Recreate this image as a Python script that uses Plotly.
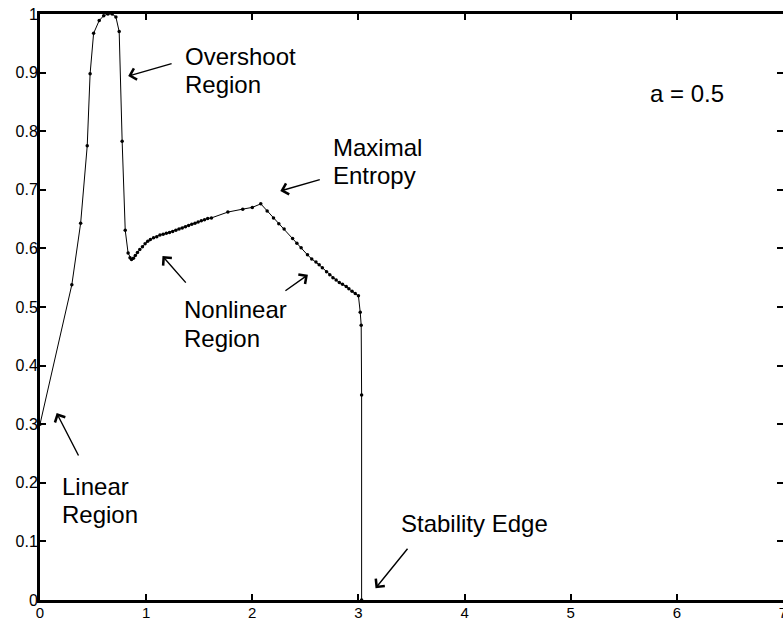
import plotly.graph_objects as go

# Curve samples (x, y)
x_vals = [
    0.000, 0.300, 0.383, 0.445, 0.472, 0.505, 0.558, 0.600, 0.640, 0.680,
    0.715, 0.746, 0.774, 0.803, 0.830, 0.848, 0.862, 0.880, 0.898, 0.918,
    0.940, 0.965, 0.990, 1.015, 1.040, 1.070, 1.100, 1.130, 1.160, 1.190,
    1.220, 1.250, 1.280, 1.310, 1.340, 1.370, 1.400, 1.430, 1.460, 1.490,
    1.520, 1.550, 1.580, 1.615, 1.770, 1.910, 2.000, 2.080, 2.140, 2.200,
    2.250, 2.300, 2.380, 2.420, 2.460, 2.520, 2.560, 2.600, 2.630, 2.660,
    2.700, 2.730, 2.760, 2.790, 2.820, 2.850, 2.885, 2.910, 2.940, 2.970,
    3.000, 3.017, 3.026, 3.030, 3.030,
]
y_vals = [
    0.300, 0.538, 0.643, 0.775, 0.898, 0.967, 0.989, 0.997, 1.000, 1.000,
    0.995, 0.970, 0.783, 0.631, 0.592, 0.584, 0.581, 0.583, 0.588, 0.593,
    0.598, 0.603, 0.608, 0.612, 0.615, 0.618, 0.620, 0.623, 0.624, 0.626,
    0.627, 0.629, 0.631, 0.633, 0.635, 0.637, 0.639, 0.641, 0.643, 0.645,
    0.647, 0.649, 0.651, 0.652, 0.662, 0.667, 0.670, 0.676, 0.664, 0.652,
    0.642, 0.633, 0.617, 0.609, 0.601, 0.589, 0.582, 0.577, 0.572, 0.567,
    0.560, 0.555, 0.550, 0.546, 0.542, 0.539, 0.535, 0.531, 0.527, 0.523,
    0.519, 0.491, 0.469, 0.350, 0.000,
]

x_ticks = [0, 1, 2, 3, 4, 5, 6, 7]
y_ticks = [0, 0.1, 0.2, 0.3, 0.4, 0.5, 0.6, 0.7, 0.8, 0.9, 1]
y_ticktext = ["0", "0.1", "0.2", "0.3", "0.4", "0.5", "0.6",
              "0.7", "0.8", "0.9", "1"]

# Region label lines: (text, x, y)
label_lines = [
    ("Overshoot", 1.345, 0.928),
    ("Region", 1.345, 0.880),
    ("Maximal", 2.737, 0.773),
    ("Entropy", 2.737, 0.725),
    ("Nonlinear", 1.336, 0.495),
    ("Region", 1.336, 0.447),
    ("Linear", 0.188, 0.194),
    ("Region", 0.188, 0.146),
    ("Stability Edge", 3.380, 0.130),
]
# Pointer arrows: (tail_x, tail_y, head_x, head_y)
arrows = [
    (1.254, 0.916, 0.831, 0.894),
    (2.650, 0.718, 2.264, 0.698),
    (1.386, 0.539, 1.154, 0.587),
    (2.298, 0.526, 2.524, 0.555),
    (0.370, 0.244, 0.157, 0.319),
    (3.474, 0.090, 3.161, 0.020),
]

FONT = "Liberation Sans, Arial, sans-serif"

fig = go.Figure()
fig.add_trace(go.Scatter(
    x=x_vals, y=y_vals, mode="lines+markers",
    line=dict(color="black", width=1),
    marker=dict(color="black", size=3.5),
    showlegend=False, cliponaxis=True,
))
# empty trace so the right-hand tick axis gets drawn
fig.add_trace(go.Scatter(x=[None], y=[None], yaxis="y2", showlegend=False,
                         hoverinfo="skip"))

annotations = []
for text, lx, ly in label_lines:
    annotations.append(dict(
        x=lx, y=ly, xref="x", yref="y", text=text, showarrow=False,
        xanchor="left", yanchor="middle", align="left",
        font=dict(family=FONT, size=24, color="black"),
    ))
for tx, ty, hx, hy in arrows:
    annotations.append(dict(
        x=hx, y=hy, ax=tx, ay=ty, xref="x", yref="y", axref="x", ayref="y",
        text="", showarrow=True, arrowhead=4, arrowsize=1.6, arrowwidth=1.4,
        arrowcolor="black", standoff=0, startstandoff=0,
    ))
annotations.append(dict(
    x=6.10, y=0.865, xref="x", yref="y", text="a = 0.5", showarrow=False,
    xanchor="center", yanchor="middle",
    font=dict(family=FONT, size=24, color="black"),
))

fig.update_layout(
    width=783, height=623,
    margin=dict(l=40, r=0, t=14, b=23),
    paper_bgcolor="white", plot_bgcolor="white",
    xaxis=dict(range=[0, 7], tickvals=x_ticks,
               ticktext=[str(v) for v in x_ticks],
               showgrid=False, zeroline=False, showline=True,
               linecolor="black", linewidth=3, mirror="ticks",
               ticks="inside", ticklen=6, tickwidth=2, tickcolor="black",
               tickfont=dict(family=FONT, size=15, color="black"),
               automargin=False, ticklabeloverflow="allow",
               ticklabelstandoff=-3),
    yaxis=dict(range=[0, 1], tickvals=y_ticks, ticktext=y_ticktext,
               showgrid=False, zeroline=False, showline=True,
               linecolor="black", linewidth=3, mirror=False,
               ticks="inside", ticklen=6, tickwidth=2, tickcolor="black",
               tickfont=dict(family=FONT, size=16, color="black"),
               automargin=False, ticklabelstandoff=-4),
    yaxis2=dict(range=[0, 1], tickvals=y_ticks, overlaying="y", side="right",
                showgrid=False, zeroline=False, showline=False,
                ticks="inside", ticklen=6, tickwidth=2, tickcolor="black",
                showticklabels=False, automargin=False),
    annotations=annotations,
)

fig.write_html("out.html")
